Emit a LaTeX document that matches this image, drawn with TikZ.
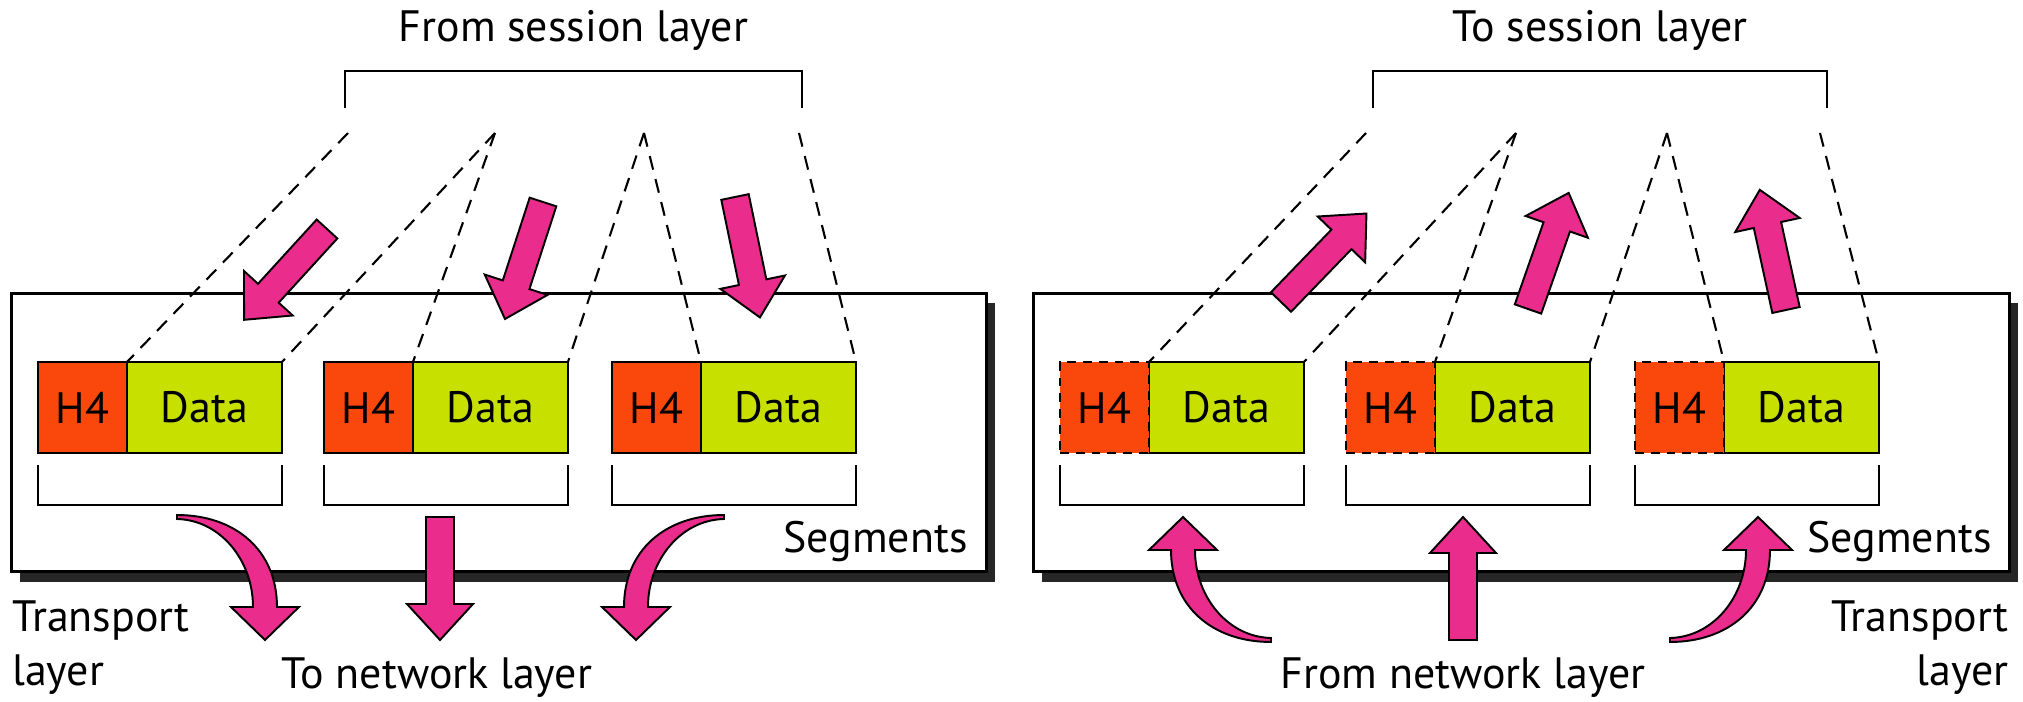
\documentclass[tikz,border=0pt]{standalone}
\usepackage{fontspec}
\setmainfont{PT Sans}
\usetikzlibrary{positioning,shadows}
\definecolor{hcol}{RGB}{250,72,12}
\definecolor{dcol}{RGB}{200,224,0}
\definecolor{acol}{RGB}{234,44,140}
\begin{document}
\begin{tikzpicture}[x=0.02cm,y=-0.02cm,
	txt/.style={font=\fontsize{25}{31}\selectfont,inner sep=0pt},
	panel/.style={draw,line width=1.7pt,fill=white,minimum width=19.52cm,minimum height=5.58cm,
		drop shadow={fill=black!85,opacity=1,shadow xshift=0.17cm,shadow yshift=-0.2cm}},
	hbox/.style={txt,draw,line width=1.3pt,fill=hcol,minimum width=1.78cm,minimum height=1.82cm,outer sep=0pt,anchor=north west},
	hboxd/.style={hbox,dash pattern=on 5pt off 4pt},
	dbox/.style={txt,draw,line width=1.3pt,fill=dcol,minimum width=3.1cm,minimum height=1.82cm,outer sep=0pt},
	conn/.style={line width=1.2pt,dash pattern=on 8pt off 5.5pt},
	brk/.style={line width=1.3pt},
	blk/.style={fill=acol,draw=black,line width=1.1pt}]
	\useasboundingbox (0,0) rectangle (2023,702);
	\node[panel] (lpanel) at (499,432.5) {};
	\node[panel] (rpanel) at (1521.5,432.5) {};
	% left: sender
	\draw[brk] (345,108) -- (345,71) -- (802,71) -- (802,108);
	\node[txt,anchor=base] (ltitle) at (573.5,42) {From session layer};
	\foreach \i/\x in {1/348,2/495,3/644,4/799}{
		\coordinate (lt\i) at (\x,133);
	}
	\foreach \i/\x in {1/38,2/324,3/612}{
		\node[hbox] (lh\i) at (\x,362) {H4};
		\node[dbox,right=0pt of lh\i] (ld\i) {Data};
		\draw[brk] ([yshift=-0.24cm]lh\i.south west) -- ++(0,40) -| ([yshift=-0.24cm]ld\i.south east);
	}
	\foreach \i/\j in {1/2,2/3,3/4}{
		\draw[conn] (lt\i) -- (ld\i.north west);
		\draw[conn] (lt\j) -- (ld\i.north east);
	}
	% right: receiver
	\draw[brk] (1373,108) -- (1373,71) -- (1827,71) -- (1827,108);
	\node[txt,anchor=base] (rtitle) at (1600,42) {To session layer};
	\foreach \i/\x in {1/1366,2/1516,3/1667,4/1820}{
		\coordinate (rt\i) at (\x,133);
	}
	\foreach \i/\x in {1/1149,2/1435,3/1724}{
		\node[dbox,anchor=north west] (rd\i) at (\x,362) {Data};
		\node[hboxd,left=0pt of rd\i] (rh\i) {H4};
		\draw[brk] ([yshift=-0.24cm]rh\i.south west) -- ++(0,40) -| ([yshift=-0.24cm]rd\i.south east);
	}
	\foreach \i/\j in {1/2,2/3,3/4}{
		\draw[conn] (rt\i) -- (rd\i.north west);
		\draw[conn] (rt\j) -- (rd\i.north east);
	}
	% block arrows
	\foreach \x/\y/\a in {327/229/227.6,543/202/252,735/197/281.7,440/517/270,1281/302/46,1528/309/70.7,1786/310/102.3,1463/640/90}{
		\filldraw[blk,shift={(\x,\y)},rotate=\a] (0,-14) -- (87,-14) -- (87,-33) -- (123,0) -- (87,33) -- (87,14) -- (0,14) -- cycle;
	}
	\foreach \x/\y/\sx/\sy in {265/640/1/1,636/640/-1/1,1183/517/-1/-1,1758/517/1/-1}{
		\filldraw[blk,shift={(\x,\y)},xscale=\sx,yscale=\sy] (0,0) -- (-34,-33) -- (-12,-33) .. controls (-12,-80) and (-45,-120) .. (-88,-121) -- (-88,-125) .. controls (-30,-125) and (12,-90) .. (12,-33) -- (34,-33) -- cycle;
	}
	% labels
	\node[txt,anchor=base east] (lseg) at (968,553) {Segments};
	\node[txt,anchor=base east] (rseg) at (1992,553) {Segments};
	\node[txt,anchor=north west,align=left] (ltrans) at (12,600) {Transport\\layer};
	\node[txt,anchor=north east,align=right] (rtrans) at (2009,600) {Transport\\layer};
	\node[txt,anchor=base] (lnet) at (437,688) {To network layer};
	\node[txt,anchor=base] (rnet) at (1463,688) {From network layer};
\end{tikzpicture}
\end{document}
